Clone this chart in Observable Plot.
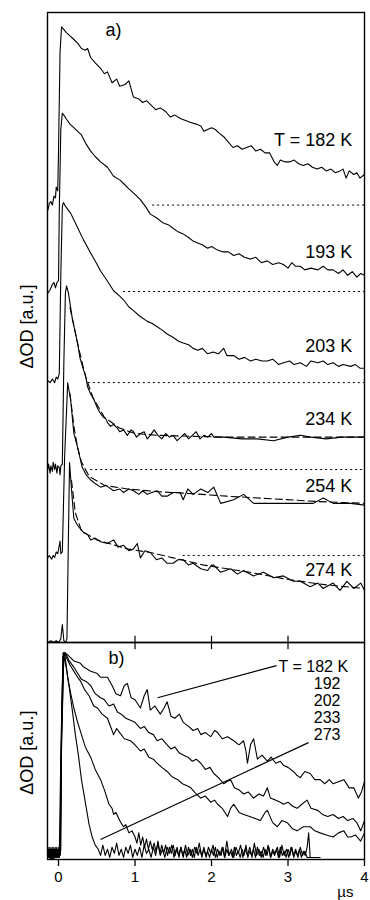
<!DOCTYPE html>
<html><head><meta charset="utf-8">
<script src="https://cdn.jsdelivr.net/npm/d3@7"></script>
<script src="https://cdn.jsdelivr.net/npm/@observablehq/plot@0.6"></script>
<style>
body{margin:0;background:#fff;}
#chart{width:370px;}
#chart svg{display:block;overflow:visible;}
</style>
</head><body><div id="chart"></div>
<script>
// ---------- time axis (µs) ----------
const xDomain = [-0.144, 4];
const xTicks = [0, 1, 2, 3, 4];
const xUnit = "µs";
const yLabel = "ΔOD [a.u.]";

// ---------- panel a: stacked normalized traces [t (µs), ΔOD (a.u.)] ----------
const seriesA = ["182", "193", "203", "234", "254", "274"];
const offsetsA = [2.43, 1.95, 1.444, 0.961, 0.483, 0];
const labelsA = ["T = 182 K", "193 K", "203 K", "234 K", "254 K", "274 K"];
const labelYA = [2.789, 2.169, 1.644, 1.242, 0.867, 0.40];
const dottedStartA = [1.23, 0.85, 0.39, 0.42, 1.63, null];

const a182 = [[-0.14,-0.03],[-0.12,0.01],[-0.10,0.02],[-0.08,0.0],[-0.06,0.05],[-0.04,0.04],[-0.03,0.10],[-0.01,0.08],[0.0,0.30],[0.02,0.85],[0.04,0.99],[0.06,0.98],[0.10,0.96],[0.15,0.94],[0.20,0.92],[0.25,0.90],[0.30,0.87],[0.35,0.86],[0.38,0.87],[0.42,0.82],[0.48,0.79],[0.55,0.76],[0.60,0.73],[0.64,0.74],[0.70,0.68],[0.76,0.70],[0.80,0.66],[0.87,0.67],[0.92,0.69],[0.98,0.60],[1.05,0.59],[1.10,0.57],[1.15,0.58],[1.20,0.56],[1.27,0.53],[1.33,0.54],[1.40,0.52],[1.46,0.49],[1.52,0.50],[1.60,0.48],[1.66,0.47],[1.72,0.46],[1.80,0.45],[1.86,0.44],[1.90,0.41],[1.95,0.42],[2.00,0.43],[2.05,0.42],[2.10,0.40],[2.16,0.38],[2.22,0.35],[2.28,0.32],[2.34,0.33],[2.40,0.31],[2.46,0.32],[2.52,0.33],[2.58,0.30],[2.64,0.31],[2.70,0.29],[2.76,0.29],[2.82,0.24],[2.86,0.22],[2.90,0.25],[2.96,0.24],[3.02,0.24],[3.08,0.25],[3.14,0.23],[3.20,0.22],[3.26,0.23],[3.32,0.21],[3.38,0.20],[3.44,0.21],[3.50,0.19],[3.56,0.20],[3.62,0.18],[3.68,0.19],[3.72,0.20],[3.76,0.15],[3.80,0.19],[3.86,0.17],[3.90,0.18],[3.94,0.15],[4.00,0.17]];
const a193 = [[-0.14,-0.01],[-0.11,0.01],[-0.08,0.04],[-0.06,0.05],[-0.04,0.02],[-0.02,0.05],[0.0,0.06],[0.01,0.45],[0.03,0.90],[0.05,0.99],[0.07,0.98],[0.10,0.96],[0.15,0.93],[0.20,0.91],[0.25,0.89],[0.30,0.87],[0.36,0.82],[0.42,0.78],[0.48,0.75],[0.55,0.72],[0.64,0.69],[0.72,0.64],[0.80,0.62],[0.85,0.60],[0.92,0.57],[1.00,0.54],[1.07,0.51],[1.14,0.47],[1.20,0.43],[1.28,0.41],[1.37,0.38],[1.44,0.37],[1.50,0.35],[1.57,0.33],[1.63,0.32],[1.70,0.30],[1.76,0.28],[1.82,0.27],[1.88,0.26],[1.95,0.24],[2.00,0.25],[2.08,0.23],[2.15,0.22],[2.22,0.22],[2.29,0.20],[2.36,0.21],[2.43,0.19],[2.51,0.18],[2.58,0.19],[2.65,0.16],[2.73,0.17],[2.80,0.15],[2.88,0.16],[2.94,0.15],[3.00,0.13],[3.05,0.16],[3.10,0.14],[3.16,0.14],[3.22,0.12],[3.30,0.13],[3.39,0.12],[3.46,0.14],[3.52,0.12],[3.59,0.12],[3.66,0.10],[3.72,0.12],[3.78,0.09],[3.84,0.11],[3.90,0.08],[3.95,0.10],[4.00,0.09]];
const a203 = [[-0.14,0.01],[-0.11,0.0],[-0.08,0.02],[-0.05,0.0],[-0.03,0.03],[-0.01,0.02],[0.01,0.05],[0.03,0.60],[0.05,0.98],[0.065,1.0],[0.09,0.98],[0.16,0.94],[0.25,0.86],[0.33,0.79],[0.42,0.72],[0.50,0.66],[0.55,0.62],[0.63,0.57],[0.72,0.51],[0.80,0.48],[0.85,0.46],[0.92,0.42],[0.98,0.40],[1.06,0.37],[1.16,0.34],[1.22,0.33],[1.29,0.31],[1.36,0.29],[1.42,0.27],[1.50,0.25],[1.57,0.23],[1.63,0.22],[1.70,0.21],[1.76,0.19],[1.82,0.18],[1.88,0.19],[1.95,0.16],[2.02,0.17],[2.09,0.16],[2.16,0.19],[2.20,0.15],[2.29,0.15],[2.36,0.13],[2.43,0.14],[2.51,0.12],[2.58,0.13],[2.66,0.12],[2.73,0.12],[2.80,0.13],[2.88,0.10],[2.94,0.11],[3.02,0.12],[3.08,0.10],[3.16,0.11],[3.24,0.09],[3.30,0.12],[3.39,0.11],[3.46,0.12],[3.52,0.10],[3.59,0.11],[3.66,0.09],[3.72,0.10],[3.82,0.09],[3.88,0.10],[3.94,0.08],[4.00,0.08]];
const a234 = [[-0.14,0.0],[-0.13,0.03],[-0.11,-0.02],[-0.10,0.02],[-0.08,-0.01],[-0.07,0.04],[-0.05,0.0],[-0.04,0.03],[-0.02,-0.02],[-0.01,0.02],[0.01,0.01],[0.02,-0.03],[0.03,0.02],[0.05,0.03],[0.07,0.60],[0.09,0.98],[0.105,1.02],[0.13,0.98],[0.18,0.84],[0.21,0.78],[0.25,0.70],[0.28,0.62],[0.33,0.55],[0.35,0.53],[0.38,0.46],[0.42,0.42],[0.46,0.39],[0.51,0.34],[0.55,0.31],[0.59,0.29],[0.62,0.28],[0.64,0.26],[0.68,0.24],[0.72,0.25],[0.77,0.23],[0.80,0.21],[0.85,0.22],[0.90,0.19],[0.95,0.22],[0.98,0.21],[1.02,0.18],[1.07,0.20],[1.12,0.21],[1.16,0.17],[1.20,0.19],[1.25,0.22],[1.30,0.19],[1.35,0.17],[1.40,0.20],[1.45,0.18],[1.50,0.19],[1.55,0.16],[1.60,0.18],[1.65,0.20],[1.70,0.17],[1.75,0.19],[1.80,0.21],[1.85,0.17],[1.90,0.19],[1.95,0.18],[2.00,0.20],[2.03,0.18],[2.16,0.18],[2.40,0.17],[2.60,0.17],[2.81,0.16],[3.00,0.18],[3.16,0.19],[3.30,0.18],[3.50,0.17],[3.70,0.18],[4.00,0.18]];
const a254 = [[-0.14,-0.01],[-0.12,0.0],[-0.09,-0.02],[-0.07,0.0],[-0.05,-0.01],[-0.03,0.02],[-0.01,0.01],[0.02,0.08],[0.03,0.01],[0.05,0.02],[0.08,0.55],[0.12,0.96],[0.16,0.86],[0.20,0.68],[0.25,0.60],[0.31,0.49],[0.36,0.45],[0.42,0.42],[0.48,0.40],[0.55,0.38],[0.62,0.39],[0.72,0.36],[0.80,0.37],[0.85,0.35],[0.92,0.37],[0.98,0.36],[1.05,0.34],[1.10,0.36],[1.16,0.34],[1.22,0.35],[1.29,0.36],[1.35,0.33],[1.42,0.33],[1.50,0.35],[1.59,0.35],[1.63,0.31],[1.69,0.37],[1.76,0.34],[1.86,0.37],[1.95,0.35],[2.03,0.38],[2.12,0.29],[2.29,0.31],[2.42,0.34],[2.55,0.29],[2.73,0.29],[2.94,0.29],[3.16,0.29],[3.33,0.29],[3.46,0.32],[3.59,0.29],[3.82,0.29],[4.00,0.28]];
const a274 = [[-0.14,0.0],[-0.10,0.01],[-0.06,0.0],[-0.03,0.01],[0.0,0.0],[0.03,0.02],[0.05,0.10],[0.07,0.01],[0.09,0.0],[0.11,0.02],[0.13,0.60],[0.144,1.0],[0.17,0.85],[0.20,0.69],[0.25,0.65],[0.29,0.63],[0.33,0.61],[0.38,0.60],[0.42,0.57],[0.48,0.58],[0.55,0.56],[0.64,0.55],[0.72,0.57],[0.78,0.53],[0.85,0.54],[0.92,0.51],[0.98,0.52],[1.03,0.55],[1.07,0.47],[1.13,0.51],[1.20,0.50],[1.28,0.46],[1.35,0.47],[1.42,0.44],[1.50,0.44],[1.56,0.46],[1.63,0.46],[1.70,0.43],[1.76,0.44],[1.86,0.41],[1.95,0.40],[2.00,0.43],[2.03,0.43],[2.12,0.39],[2.25,0.41],[2.34,0.38],[2.42,0.40],[2.55,0.37],[2.68,0.39],[2.81,0.36],[2.94,0.37],[3.07,0.34],[3.16,0.34],[3.29,0.31],[3.39,0.33],[3.46,0.30],[3.59,0.33],[3.68,0.29],[3.77,0.34],[3.86,0.30],[3.95,0.33],[4.00,0.29]];
const tracesA = [a182, a193, a203, a234, a254, a274];

// fitted curves (dashed) for the three highest temperatures
const fitSeriesA = ["234", "254", "274"];
const fit234 = [[0.15,0.90],[0.25,0.70],[0.35,0.52],[0.45,0.40],[0.60,0.29],[0.80,0.23],[1.00,0.20],[1.30,0.19],[1.70,0.185],[2.20,0.18],[3.00,0.18],[4.00,0.18]];
const fit254 = [[0.15,0.90],[0.20,0.72],[0.25,0.60],[0.30,0.52],[0.40,0.44],[0.60,0.39],[0.90,0.37],[1.30,0.355],[1.70,0.345],[2.20,0.33],[2.80,0.315],[3.40,0.30],[4.00,0.29]];
const fit274 = [[0.17,0.90],[0.22,0.72],[0.30,0.62],[0.50,0.57],[0.90,0.52],[1.20,0.50],[1.50,0.47],[1.90,0.43],[2.50,0.39],[3.00,0.35],[3.50,0.32],[4.00,0.30]];
const fitsA = [fit234, fit254, fit274];

// ---------- panel b: overlaid normalized traces ----------
const seriesB = ["182", "192", "202", "233", "273"];
const labelsB = ["T = 182 K", "192", "202", "233", "273"];
const labelYB = [0.932, 0.849, 0.766, 0.683, 0.600];

const b182 = [[-0.14,0.01],[-0.10,-0.01],[-0.06,0.01],[-0.02,0.0],[0.02,0.02],[0.04,0.6],[0.07,1.0],[0.12,0.99],[0.20,0.96],[0.28,0.95],[0.33,0.93],[0.42,0.91],[0.50,0.90],[0.55,0.88],[0.64,0.88],[0.70,0.84],[0.75,0.80],[0.81,0.79],[0.86,0.84],[0.90,0.85],[0.95,0.78],[1.00,0.77],[1.07,0.73],[1.12,0.79],[1.16,0.82],[1.20,0.72],[1.26,0.74],[1.33,0.70],[1.38,0.73],[1.42,0.76],[1.47,0.69],[1.52,0.68],[1.58,0.70],[1.63,0.66],[1.70,0.64],[1.76,0.62],[1.82,0.63],[1.86,0.60],[1.92,0.61],[1.99,0.59],[2.04,0.62],[2.08,0.61],[2.14,0.58],[2.21,0.59],[2.29,0.57],[2.36,0.55],[2.42,0.57],[2.45,0.52],[2.47,0.46],[2.51,0.55],[2.55,0.58],[2.58,0.52],[2.60,0.48],[2.66,0.50],[2.73,0.47],[2.78,0.49],[2.84,0.46],[2.90,0.47],[2.94,0.45],[3.00,0.44],[3.07,0.42],[3.12,0.40],[3.16,0.39],[3.22,0.42],[3.29,0.41],[3.35,0.38],[3.42,0.38],[3.48,0.36],[3.54,0.38],[3.59,0.36],[3.66,0.37],[3.73,0.38],[3.80,0.34],[3.86,0.34],[3.92,0.29],[3.96,0.32],[4.00,0.37]];
const b192 = [[-0.14,0.0],[-0.11,0.02],[-0.07,-0.01],[-0.03,0.01],[0.01,0.0],[0.03,0.5],[0.06,0.98],[0.09,1.0],[0.14,0.96],[0.20,0.93],[0.25,0.90],[0.30,0.87],[0.36,0.86],[0.42,0.84],[0.48,0.80],[0.55,0.78],[0.60,0.77],[0.66,0.74],[0.72,0.75],[0.77,0.71],[0.82,0.70],[0.88,0.68],[0.94,0.67],[1.00,0.66],[1.07,0.63],[1.12,0.64],[1.18,0.61],[1.24,0.60],[1.29,0.57],[1.35,0.58],[1.42,0.55],[1.47,0.53],[1.52,0.54],[1.58,0.51],[1.63,0.50],[1.69,0.49],[1.75,0.47],[1.80,0.48],[1.86,0.46],[1.92,0.43],[1.98,0.44],[2.03,0.41],[2.09,0.39],[2.16,0.36],[2.20,0.37],[2.25,0.38],[2.30,0.34],[2.36,0.33],[2.42,0.31],[2.48,0.32],[2.55,0.29],[2.62,0.31],[2.68,0.30],[2.73,0.34],[2.77,0.29],[2.84,0.28],[2.90,0.27],[2.94,0.26],[3.00,0.27],[3.06,0.25],[3.12,0.24],[3.18,0.26],[3.25,0.28],[3.30,0.24],[3.39,0.23],[3.45,0.21],[3.52,0.20],[3.59,0.21],[3.66,0.19],[3.72,0.20],[3.78,0.18],[3.85,0.19],[3.90,0.17],[3.95,0.13],[4.00,0.18]];
const b202 = [[-0.14,0.01],[-0.10,0.0],[-0.06,0.02],[-0.02,0.0],[0.02,0.01],[0.04,0.55],[0.07,1.0],[0.10,0.98],[0.15,0.94],[0.20,0.91],[0.25,0.88],[0.29,0.86],[0.34,0.82],[0.40,0.79],[0.46,0.74],[0.51,0.73],[0.57,0.70],[0.64,0.68],[0.68,0.64],[0.72,0.60],[0.76,0.63],[0.80,0.61],[0.86,0.58],[0.94,0.57],[1.00,0.55],[1.07,0.52],[1.12,0.53],[1.18,0.49],[1.24,0.48],[1.29,0.46],[1.35,0.44],[1.42,0.42],[1.47,0.40],[1.50,0.39],[1.56,0.38],[1.62,0.36],[1.68,0.35],[1.73,0.34],[1.80,0.31],[1.86,0.29],[1.92,0.30],[1.99,0.27],[2.04,0.28],[2.08,0.26],[2.14,0.24],[2.21,0.20],[2.25,0.24],[2.29,0.26],[2.36,0.22],[2.42,0.21],[2.50,0.20],[2.57,0.19],[2.64,0.18],[2.70,0.22],[2.73,0.23],[2.80,0.17],[2.86,0.15],[2.92,0.18],[2.99,0.17],[3.06,0.14],[3.12,0.13],[3.20,0.15],[3.29,0.15],[3.35,0.13],[3.42,0.12],[3.50,0.11],[3.59,0.10],[3.66,0.12],[3.73,0.13],[3.78,0.10],[3.82,0.10],[3.88,0.11],[3.95,0.08],[4.00,0.12]];
const b233 = [[-0.14,0.0],[-0.13,0.04],[-0.12,0.0],[-0.11,0.05],[-0.10,0.0],[-0.09,0.04],[-0.08,0.01],[-0.07,0.05],[-0.06,0.0],[-0.05,0.04],[-0.04,0.0],[-0.03,0.05],[-0.02,0.01],[-0.01,0.04],[0.0,0.0],[0.01,0.05],[0.02,0.01],[0.03,0.04],[0.04,0.6],[0.06,0.98],[0.08,1.0],[0.12,0.88],[0.16,0.80],[0.20,0.73],[0.25,0.66],[0.30,0.60],[0.35,0.54],[0.42,0.49],[0.48,0.43],[0.55,0.38],[0.60,0.33],[0.66,0.26],[0.70,0.24],[0.72,0.21],[0.75,0.22],[0.80,0.18],[0.85,0.15],[0.88,0.16],[0.92,0.12],[0.96,0.13],[1.00,0.10],[1.025,0.07],[1.05,0.12],[1.075,0.06],[1.10,0.10],[1.125,0.05],[1.15,0.09],[1.175,0.04],[1.20,0.08],[1.225,0.04],[1.25,0.07],[1.275,0.03],[1.30,0.07],[1.325,0.02],[1.35,0.06],[1.375,0.02],[1.40,0.06],[1.425,0.01],[1.45,0.05],[1.475,0.02],[1.50,0.06],[1.525,0.01],[1.55,0.05],[1.575,0.0],[1.60,0.05],[1.625,0.01],[1.65,0.04],[1.675,0.0],[1.70,0.05],[1.725,0.01],[1.75,0.04],[1.775,0.0],[1.80,0.05],[1.825,0.01],[1.85,0.04],[1.875,0.0],[1.90,0.05],[1.925,0.01],[1.95,0.03],[1.975,0.0],[2.00,0.04],[2.025,0.01],[2.05,0.05],[2.075,0.0],[2.10,0.03],[2.125,0.01],[2.15,0.05],[2.175,0.0],[2.20,0.04],[2.225,0.01],[2.25,0.03],[2.275,0.0],[2.30,0.05],[2.325,0.01],[2.35,0.03],[2.375,0.0],[2.40,0.04],[2.425,0.01],[2.45,0.06],[2.475,0.0],[2.50,0.03],[2.525,0.01],[2.55,0.04],[2.575,0.0],[2.60,0.05],[2.625,0.01],[2.65,0.03],[2.675,0.0],[2.70,0.04],[2.725,0.01],[2.75,0.05],[2.775,0.0],[2.80,0.03],[2.825,0.01],[2.85,0.04],[2.875,0.0],[2.90,0.05],[2.925,0.01],[2.95,0.03],[2.975,0.0],[3.00,0.04],[3.025,0.01],[3.05,0.05],[3.075,0.0],[3.10,0.03],[3.125,0.01],[3.15,0.04],[3.175,0.0],[3.20,0.03],[3.225,0.01],[3.25,0.05],[3.27,0.12],[3.29,0.0]];
const b273 = [[-0.14,0.03],[-0.135,0.0],[-0.125,0.05],[-0.115,0.01],[-0.105,0.04],[-0.095,0.0],[-0.085,0.05],[-0.075,0.0],[-0.065,0.04],[-0.055,0.01],[-0.045,0.05],[-0.035,0.0],[-0.025,0.04],[-0.015,0.0],[-0.005,0.05],[0.005,0.01],[0.015,0.04],[0.025,0.02],[0.04,0.7],[0.06,1.0],[0.10,0.93],[0.14,0.83],[0.18,0.72],[0.22,0.60],[0.26,0.50],[0.30,0.38],[0.35,0.27],[0.40,0.16],[0.44,0.10],[0.48,0.06],[0.52,0.04],[0.55,0.01],[0.58,0.06],[0.61,0.01],[0.64,0.04],[0.67,0.0],[0.70,0.05],[0.73,0.02],[0.76,0.07],[0.79,0.01],[0.82,0.04],[0.85,0.0],[0.88,0.05],[0.91,0.02],[0.94,0.06],[0.97,0.0],[1.00,0.04],[1.03,0.01],[1.06,0.05],[1.09,0.0],[1.12,0.06],[1.15,0.02],[1.18,0.04],[1.21,0.0],[1.24,0.05],[1.27,0.01],[1.30,0.08],[1.33,0.01],[1.36,0.04],[1.39,0.0],[1.42,0.05],[1.45,0.02],[1.48,0.06],[1.51,0.0],[1.54,0.04],[1.57,0.01],[1.60,0.05],[1.63,0.0],[1.66,0.06],[1.69,0.01],[1.72,0.04],[1.75,0.0],[1.78,0.05],[1.81,0.02],[1.84,0.07],[1.87,0.01],[1.90,0.04],[1.93,0.0],[1.96,0.05],[1.99,0.02],[2.02,0.06],[2.05,0.0],[2.08,0.04],[2.11,0.01],[2.14,0.05],[2.17,0.0],[2.20,0.08],[2.23,0.01],[2.26,0.04],[2.29,0.0],[2.32,0.05],[2.35,0.02],[2.38,0.06],[2.41,0.0],[2.44,0.04],[2.47,0.01],[2.50,0.05],[2.53,0.0],[2.56,0.07],[2.59,0.01],[2.62,0.04],[2.65,0.0],[2.68,0.05],[2.71,0.01],[2.74,0.06],[2.77,0.0],[2.80,0.04],[2.83,0.02],[2.86,0.05],[2.89,0.0],[2.92,0.06],[2.95,0.01],[2.98,0.04],[3.01,0.0],[3.04,0.05],[3.07,0.01],[3.10,0.04],[3.13,0.0],[3.16,0.05],[3.19,0.01],[3.22,0.03],[3.25,0.0],[3.42,0.0]];
const tracesB = [b182, b192, b202, b233, b273];

// leader lines in panel b (t, ΔOD)
const leaderFrom = [[1.294, 0.78], [0.549, 0.088]];
const leaderTo = [[2.85, 0.937], [3.268, 0.561]];

// ---------- build tables ----------
const rowsA = seriesA.flatMap((s, i) => tracesA[i].map(([t, v]) => ({s, t, y: offsetsA[i] + v})));
const fitRowsA = fitSeriesA.flatMap((s, k) => {
  const i = seriesA.indexOf(s);
  return fitsA[k].map(([t, v]) => ({s, t, y: offsetsA[i] + v}));
});
const dottedA = seriesA.map((s, i) => ({s, x1: dottedStartA[i], y: offsetsA[i]})).filter(d => d.x1 != null);
const labelRowsA = labelsA.map((text, i) => ({text, y: labelYA[i]}));
const rowsB = seriesB.flatMap((s, i) => tracesB[i].map(([t, v]) => ({s, t, v})));
const leaders = leaderFrom.map((p, i) => ({x1: p[0], y1: p[1], x2: leaderTo[i][0], y2: leaderTo[i][1]}));

const font = "'Liberation Sans', Arial, Helvetica, sans-serif";
const yDomainA = [0, 3.5];
const yDomainB = [-0.01, 1.05];

const plotA = Plot.plot({
  width: 370, height: 642,
  marginTop: 12, marginBottom: 0, marginLeft: 47, marginRight: 6,
  x: {domain: xDomain, axis: null},
  y: {domain: yDomainA, axis: null},
  style: {fontFamily: font, fontSize: "18px", color: "black", background: "white", overflow: "visible"},
  marks: [
    Plot.ruleY(dottedA, {y: "y", x1: "x1", x2: xDomain[1], stroke: "black", strokeWidth: 1, strokeDasharray: "2,3"}),
    Plot.line(fitRowsA, {x: "t", y: "y", z: "s", stroke: "black", strokeWidth: 1.1, strokeDasharray: "7,4"}),
    Plot.line(rowsA, {x: "t", y: "y", z: "s", stroke: "black", strokeWidth: 1.1}),
    Plot.ruleX([1, 2, 3], {y1: 0, y2: 0.035, stroke: "black", strokeWidth: 1.2}),
    Plot.text(labelRowsA, {x: 3.84, y: "y", text: "text", textAnchor: "end", fontSize: 18, fill: "black"}),
    Plot.text(["a)"], {x: 0.614, y: 3.40, textAnchor: "start", fontSize: 18, fill: "black"}),
    Plot.text([yLabel], {x: xDomain[0], y: 1.756, dx: -20, rotate: -90, textAnchor: "middle", fontSize: 18, fill: "black"}),
    Plot.frame({stroke: "black", strokeWidth: 1.4})
  ]
});

const plotB = Plot.plot({
  width: 370, height: 258,
  marginTop: 0, marginBottom: 41, marginLeft: 47, marginRight: 6,
  x: {domain: xDomain, axis: null},
  y: {domain: yDomainB, axis: null},
  style: {fontFamily: font, fontSize: "18px", color: "black", background: "white", overflow: "visible"},
  marks: [
    Plot.line(rowsB, {x: "t", y: "v", z: "s", stroke: "black", strokeWidth: 1.1}),
    Plot.link(leaders, {x1: "x1", y1: "y1", x2: "x2", y2: "y2", stroke: "black", strokeWidth: 1.2}),
    Plot.text([labelsB[0]], {x: 2.876, y: labelYB[0], textAnchor: "start", fontSize: 16, fill: "black"}),
    Plot.text(labelsB.slice(1).map((text, i) => ({text, y: labelYB[i + 1]})), {x: 3.686, y: "y", text: "text", textAnchor: "end", fontSize: 16, fill: "black"}),
    Plot.text(["b)"], {x: 0.654, y: 0.971, textAnchor: "start", fontSize: 18, fill: "black"}),
    Plot.text([yLabel], {x: xDomain[0], y: 0.512, dx: -20, rotate: -90, textAnchor: "middle", fontSize: 18, fill: "black"}),
    Plot.ruleX([1, 2, 3], {y1: yDomainB[1], y2: yDomainB[1] - 0.035, stroke: "black", strokeWidth: 1.2}),
    Plot.axisX({ticks: xTicks, tickSize: 7, tickPadding: 5, fontSize: 15, label: null, strokeWidth: 1.3, tickFormat: d => String(d)}),
    Plot.text([xUnit], {x: 3.75, y: yDomainB[0], dy: 33, textAnchor: "middle", fontSize: 15, fill: "black"}),
    Plot.frame({stroke: "black", strokeWidth: 1.4})
  ]
});

const chart = document.getElementById("chart");
chart.appendChild(plotA);
chart.appendChild(plotB);
</script></body></html>
